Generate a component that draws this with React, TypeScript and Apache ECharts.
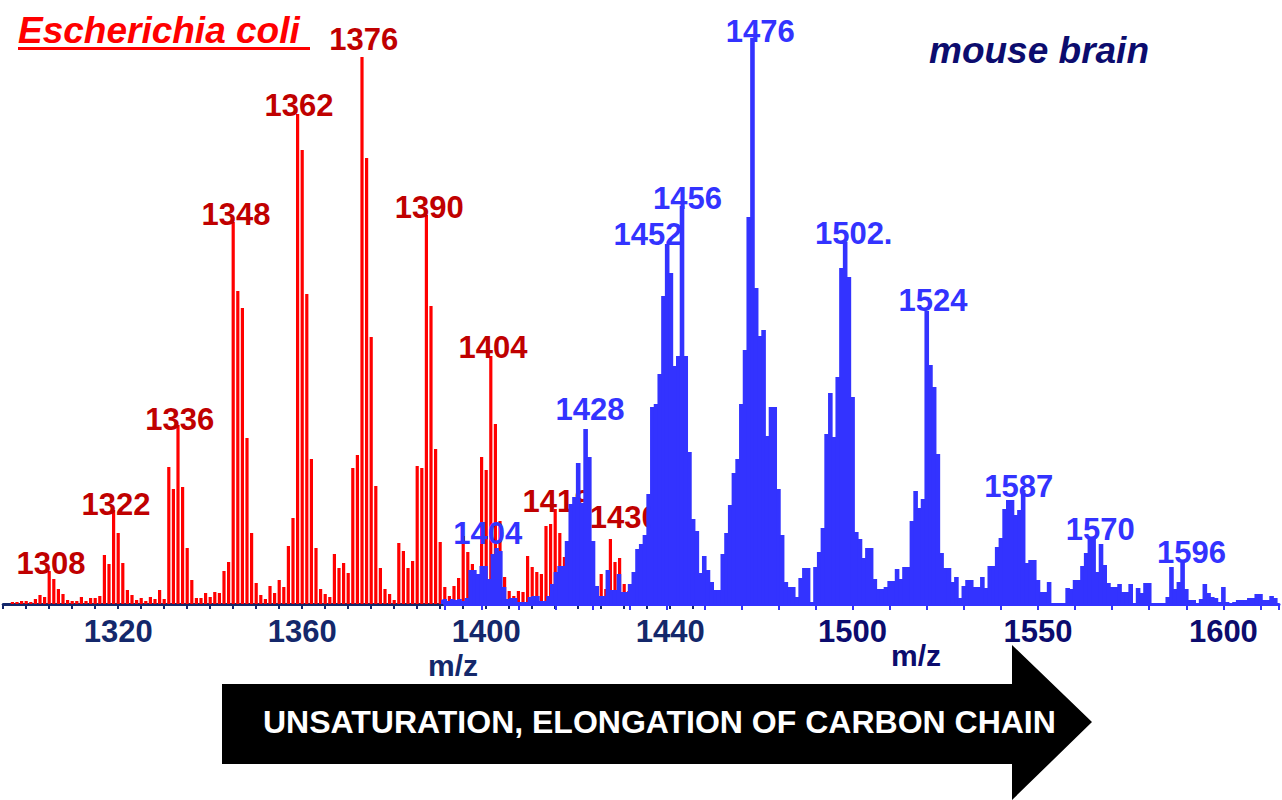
import React, { useEffect, useRef } from "react";
import * as echarts from "echarts";

// ---------- data ----------
// E. coli spectrum: one bar per m/z unit, starting at RED_MZ_START
const RED_MZ_START = 1297;
const redIntensity = [
  2, 2, 3, 3, 2, 5, 9, 7, 33, 25, 15, 10, 4, 3, 3, 7, 3, 6, 6, 8,
  49, 40, 94, 71, 41, 14, 9, 4, 6, 3, 7, 5, 14, 5, 137, 115, 179, 117, 56, 24,
  6, 6, 11, 7, 12, 11, 33, 42, 382, 313, 296, 166, 71, 21, 9, 5, 18, 11, 24, 17,
  58, 86, 490, 454, 310, 145, 56, 15, 10, 7, 50, 36, 41, 31, 136, 149, 547, 446, 267, 118,
  36, 15, 10, 4, 61, 53, 36, 43, 138, 136, 389, 298, 155, 62, 17, 8, 18, 26, 68, 52,
  40, 30, 147, 134, 248, 180, 83, 27, 13, 8, 13, 12, 48, 37, 32, 30, 78, 80, 95, 71,
  47, 30, 20, 15, 12, 10, 8, 10, 30, 15, 65, 42, 46, 20, 13, 5, 3,
];
// mouse brain spectrum: one bar per m/z unit, starting at BLUE_MZ_START
const BLUE_MZ_START = 1389;
const blueIntensity = [
  4, 5, 3, 5, 4, 5, 3, 6, 34, 34, 30, 38, 38, 25, 50, 56, 53, 17, 5, 6,
  6, 2, 2, 2, 7, 8, 8, 3, 3, 8, 20, 32, 38, 38, 63, 100, 107, 141, 101, 175,
  147, 63, 18, 8, 8, 34, 14, 14, 30, 12, 12, 20, 32, 55, 60, 69, 110, 197, 200, 230,
  308, 360, 331, 238, 248, 398, 248, 152, 85, 73, 31, 48, 34, 22, 14, 14, 50, 71, 99, 131,
  145, 200, 254, 387, 566, 316, 268, 274, 168, 197, 197, 115, 69, 22, 17, 17, 7, 26, 36, 36,
  2, 37, 52, 76, 170, 211, 167, 227, 336, 362, 327, 207, 72, 65, 46, 56, 56, 25, 15, 15,
  17, 23, 23, 35, 25, 37, 37, 83, 113, 96, 105, 293, 239, 217, 150, 51, 36, 36, 22, 27,
  6, 18, 24, 24, 17, 17, 27, 16, 38, 38, 57, 66, 95, 104, 104, 89, 94, 114, 41, 44,
  44, 24, 12, 12, 22, 1, 1, 1, 1, 16, 15, 24, 24, 38, 51, 67, 67, 32, 60, 39,
  21, 17, 17, 20, 12, 12, 20, 1, 16, 11, 21, 21, 1, 1, 1, 1, 7, 37, 15, 22,
  42, 15, 4, 4, 1, 5, 20, 11, 7, 6, 2, 17, 2, 1, 2, 4, 4, 4, 6, 6,
  10, 10, 4, 4, 8, 6,
];

// peak annotations: text, m/z anchor, intensity anchor
const redPeakNames = ["1308", "1322", "1336", "1348", "1362", "1376", "1390", "1404", "1418", "1430"];
const redPeakMz = [1305.4, 1319.5, 1333.4, 1345.6, 1359.3, 1373.4, 1387.6, 1401.5, 1415.4, 1430];
const redPeakLevel = [41, 100, 185, 390, 499, 565, 397, 257, 103, 87];

const bluePeakNames = ["1404", "1428", "1452", "1456", "1476", "1502.", "1524", "1587", "1570", "1596"];
const bluePeakMz = [1401.6, 1429.2, 1444.8, 1455.5, 1475.1, 1500.3, 1521.7, 1544.8, 1566.8, 1591.4];
const bluePeakLevel = [71, 195, 370, 406, 573, 371, 304, 118, 75, 52];

const redTickLabels = [1320, 1360, 1400, 1440];
const blueTickLabels = [1500, 1550, 1600];

const FONT = '"Liberation Sans", Arial, sans-serif';
const RED = "#ff0000";
const DARK_RED = "#c00000";
const BLUE = "#3333ff";
const NAVY = "#14286b";
const NAVY2 = "#0c0c6e";

export default function App() {
  const ref = useRef<HTMLDivElement>(null);

  useEffect(() => {
    if (!ref.current) return;
    const chart = echarts.init(ref.current, undefined, { renderer: "svg" });

    const redData = redIntensity.map((v, i) => [RED_MZ_START + i, v]);
    const blueData = blueIntensity.map((v, i) => [BLUE_MZ_START + i, v]);
    const redLabels = redPeakNames.map((n, i) => ({ name: n, value: [redPeakMz[i], redPeakLevel[i]] }));
    const blueLabels = bluePeakNames.map((n, i) => ({ name: n, value: [bluePeakMz[i], bluePeakLevel[i]] }));

    const peakLabel = (color: string) => ({
      show: true,
      position: "inside",
      formatter: "{b}",
      color,
      opacity: 1,
      fontSize: 31,
      fontWeight: "bold",
      fontFamily: FONT,
    });

    const option: any = {
      animation: false,
      backgroundColor: "#ffffff",
      grid: [
        { left: 3.2, width: 690, top: 34, height: 570 },
        { left: 444.7, width: 839.25, top: 34, height: 570 },
      ],
      xAxis: [
        {
          gridIndex: 0,
          type: "value",
          min: 1295,
          max: 1445,
          interval: 5,
          z: 1,
          axisLine: { show: true, onZero: false, lineStyle: { color: NAVY, width: 3 } },
          axisTick: { show: true, length: 5, lineStyle: { color: NAVY, width: 2 } },
          splitLine: { show: false },
          axisLabel: {
            margin: 12,
            color: NAVY,
            fontSize: 31,
            fontWeight: "bold",
            fontFamily: FONT,
            formatter: (v: number) => (redTickLabels.includes(Math.round(v)) ? String(Math.round(v)) : ""),
          },
        },
        {
          gridIndex: 1,
          type: "value",
          min: 1390,
          max: 1615,
          interval: 10,
          z: 3,
          axisLine: { show: true, onZero: false, lineStyle: { color: BLUE, width: 3 } },
          axisTick: { show: true, length: 6, lineStyle: { color: BLUE, width: 2 } },
          splitLine: { show: false },
          axisLabel: {
            margin: 12,
            color: NAVY2,
            fontSize: 31,
            fontWeight: "bold",
            fontFamily: FONT,
            formatter: (v: number) => (blueTickLabels.includes(Math.round(v)) ? String(Math.round(v)) : ""),
          },
        },
      ],
      yAxis: [
        { gridIndex: 0, type: "value", min: 0, max: 570, show: false },
        { gridIndex: 1, type: "value", min: 0, max: 570, show: false },
      ],
      series: [
        {
          type: "bar",
          xAxisIndex: 0,
          yAxisIndex: 0,
          data: redData,
          barWidth: 3.2,
          itemStyle: { color: RED },
          z: 2,
        },
        {
          type: "scatter",
          xAxisIndex: 0,
          yAxisIndex: 0,
          data: redLabels,
          symbolSize: 0,
          clip: false,
          z: 2,
          itemStyle: { opacity: 1 },
          label: peakLabel(DARK_RED),
        },
        {
          type: "bar",
          xAxisIndex: 1,
          yAxisIndex: 1,
          data: blueData,
          barWidth: 4.6,
          itemStyle: { color: BLUE },
          z: 3,
        },
        {
          type: "scatter",
          xAxisIndex: 1,
          yAxisIndex: 1,
          data: blueLabels,
          symbolSize: 0,
          clip: false,
          z: 4,
          itemStyle: { opacity: 1 },
          label: peakLabel(BLUE),
        },
      ],
      graphic: [
        {
          type: "text",
          x: 18,
          y: 30,
          style: {
            text: "Escherichia coli",
            fill: RED,
            font: `italic bold 37px ${FONT}`,
            align: "left",
            verticalAlign: "middle",
            textAlign: "left",
            textVerticalAlign: "middle",
          },
        },
        { type: "rect", shape: { x: 18, y: 47, width: 292, height: 3 }, style: { fill: RED } },
        {
          type: "text",
          x: 929,
          y: 50,
          style: {
            text: "mouse brain",
            fill: NAVY2,
            font: `italic bold 37px ${FONT}`,
            align: "left",
            verticalAlign: "middle",
            textAlign: "left",
            textVerticalAlign: "middle",
          },
        },
        {
          type: "text",
          x: 453,
          y: 665,
          style: {
            text: "m/z",
            fill: NAVY,
            font: `bold 30px ${FONT}`,
            align: "center",
            verticalAlign: "middle",
            textAlign: "center",
            textVerticalAlign: "middle",
          },
        },
        {
          type: "text",
          x: 916,
          y: 655,
          style: {
            text: "m/z",
            fill: NAVY2,
            font: `bold 30px ${FONT}`,
            align: "center",
            verticalAlign: "middle",
            textAlign: "center",
            textVerticalAlign: "middle",
          },
        },
        {
          type: "polygon",
          shape: {
            points: [
              [222, 684],
              [1012, 684],
              [1012, 645],
              [1092, 722],
              [1012, 800],
              [1012, 764],
              [222, 764],
            ],
          },
          style: { fill: "#000000" },
        },
        {
          type: "text",
          x: 263,
          y: 722,
          z: 10,
          style: {
            text: "UNSATURATION, ELONGATION OF CARBON CHAIN",
            fill: "#ffffff",
            font: `bold 32px ${FONT}`,
            align: "left",
            verticalAlign: "middle",
            textAlign: "left",
            textVerticalAlign: "middle",
          },
        },
      ],
    };

    chart.setOption(option);
    return () => chart.dispose();
  }, []);

  return (
    <div
      ref={ref}
      style={{ position: "fixed", left: 0, top: 0, width: 1282, height: 800, overflow: "hidden", background: "#fff" }}
    />
  );
}
